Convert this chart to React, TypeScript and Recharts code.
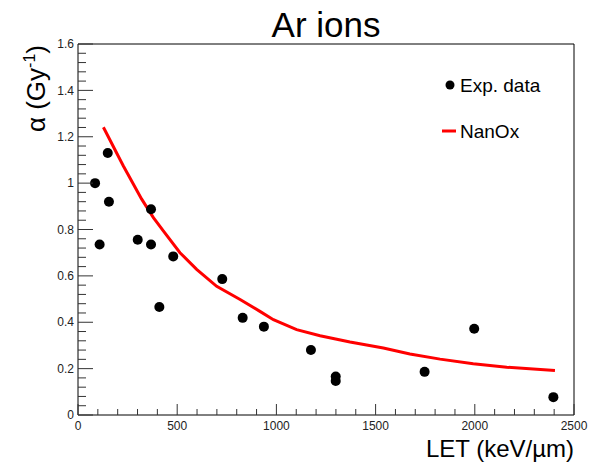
import { ScatterChart, Scatter, XAxis, YAxis, ReferenceArea, Legend } from 'recharts';

// measured LET (keV/um) and alpha (Gy^-1)
const expLet = [86, 109, 150, 156, 301, 368, 368, 410, 480, 727, 830, 937, 1174, 1299, 1299, 1747, 1997, 2396];
const expAlpha = [1.0, 0.735, 1.13, 0.92, 0.756, 0.887, 0.735, 0.466, 0.684, 0.586, 0.419, 0.381, 0.28, 0.166, 0.147, 0.186, 0.372, 0.077];

// NanOx prediction
const modelLet = [128, 228, 321, 380, 430, 514, 598, 699, 817, 917, 985, 1102, 1220, 1371, 1539, 1673, 1825, 1992, 2161, 2404];
const modelAlpha = [1.241, 1.075, 0.931, 0.851, 0.794, 0.7, 0.628, 0.555, 0.498, 0.447, 0.411, 0.368, 0.342, 0.315, 0.289, 0.263, 0.241, 0.221, 0.206, 0.192];

const xTicks = Array.from({ length: 26 }, (_, i) => i * 100);
const yTicks = Array.from({ length: 41 }, (_, i) => (i * 4) / 100);

const expData = expLet.map((x, i) => ({ x, y: expAlpha[i] }));
const modelData = modelLet.map((x, i) => ({ x, y: modelAlpha[i] }));

const FONT = '"Liberation Sans", Arial, Helvetica, sans-serif';

const XTick = (props: any) => {
  const { x, y, payload } = props;
  const v = payload.value;
  const major = v % 500 === 0;
  return (
    <g>
      <line x1={x} x2={x} y1={y} y2={y - (major ? 11 : 6)} stroke="#333" />
      {major && (
        <text x={x} y={y + 15} textAnchor="middle" fontSize={12} fill="#222" fontFamily={FONT}>
          {v}
        </text>
      )}
    </g>
  );
};

const YTick = (props: any) => {
  const { x, y, payload } = props;
  const v = payload.value;
  const major = Math.round(v * 100) % 20 === 0;
  return (
    <g>
      <line x1={x} x2={x + (major ? 15 : 8)} y1={y} y2={y} stroke="#333" />
      {major && (
        <text x={x - 4} y={y} dy="0.35em" textAnchor="end" fontSize={12} fill="#222" fontFamily={FONT}>
          {String(v)}
        </text>
      )}
    </g>
  );
};

const renderLegend = () => (
  <svg width={150} height={80} style={{ display: 'block' }}>
    <circle cx={14} cy={15} r={4.5} fill="#000" />
    <text x={24} y={15} dy="0.35em" fontSize={19} fontFamily={FONT} fill="#000">Exp. data</text>
    <line x1={6} x2={20} y1={61} y2={61} stroke="#ff0000" strokeWidth={3} />
    <text x={24} y={61} dy="0.35em" fontSize={19} fontFamily={FONT} fill="#000">NanOx</text>
  </svg>
);

export default function App() {
  return (
    <div style={{ position: 'relative', width: 602, height: 463, background: '#fff' }}>
      <style>{'body{margin:0}'}</style>
      <ScatterChart width={602} height={463} margin={{ top: 44, right: 28, bottom: 0, left: 0 }}>
        <XAxis
          type="number"
          dataKey="x"
          domain={[0, 2500]}
          ticks={xTicks}
          interval={0}
          tickSize={0}
          tickMargin={0}
          tickLine={false}
          axisLine={false}
          tick={<XTick />}
          height={48}
          label={{
            content: (p: any) => {
              const vb = p.viewBox;
              return (
                <text x={vb.x + vb.width} y={457} textAnchor="end" fontSize={24} fontFamily={FONT} fill="#000">
                  LET (keV/µm)
                </text>
              );
            },
          }}
        />
        <YAxis
          type="number"
          domain={[0, 1.6]}
          ticks={yTicks}
          interval={0}
          tickSize={0}
          tickMargin={0}
          tickLine={false}
          axisLine={false}
          tick={<YTick />}
          width={78}
          label={{
            content: (p: any) => {
              const vb = p.viewBox;
              return (
                <text
                  x={45}
                  y={vb.y + 1}
                  transform={`rotate(-90, 45, ${vb.y + 1})`}
                  textAnchor="end"
                  fontSize={26}
                  fontFamily={FONT}
                  fill="#000"
                >
                  α (Gy
                  <tspan dy={-10} fontSize={16}>-1</tspan>
                  <tspan dy={10}>)</tspan>
                </text>
              );
            },
          }}
        />
        <ReferenceArea x1={0} x2={2500} y1={0} y2={1.6} fill="none" stroke="#000" strokeOpacity={1} />
        <Scatter
          data={modelData}
          dataKey="y"
          line={{ stroke: '#ff0000', strokeWidth: 3 }}
          lineType="joint"
          shape={() => <g />}
          isAnimationActive={false}
        />
        <Scatter
          data={expData}
          dataKey="y"
          shape={(p: any) => <circle cx={p.cx} cy={p.cy} r={5} fill="#000" />}
          isAnimationActive={false}
        />
        <Legend
          layout="horizontal"
          verticalAlign="middle"
          align="center"
          content={renderLegend}
          wrapperStyle={{ left: 436, top: 70, width: 150, height: 80 }}
        />
      </ScatterChart>
      <svg width={602} height={60} style={{ position: 'absolute', left: 0, top: 0, pointerEvents: 'none' }}>
        <text x={326} y={37} textAnchor="middle" fontSize={35} fontFamily={FONT} fill="#000">
          Ar ions
        </text>
      </svg>
    </div>
  );
}
